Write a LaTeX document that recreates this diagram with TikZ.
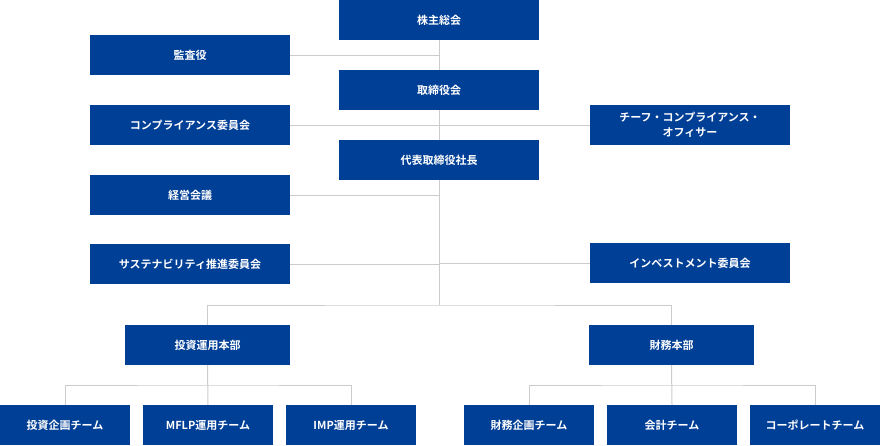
\documentclass[tikz,border=0pt]{standalone}
\usepackage{fontspec}
\usepackage{xcolor}
\usepackage{tikz}
\usetikzlibrary{positioning,calc}
\newfontfamily\jpfont[BoldFont={Noto Sans CJK JP Bold}]{Noto Sans CJK JP}
\definecolor{orgblue}{HTML}{003F96}
\definecolor{linegray}{HTML}{CCCCCC}
\tikzset{
  orgbox/.style={fill=orgblue,text=white,minimum height=40pt,inner sep=0pt,
    font=\jpfont\bfseries\fontsize{11pt}{15pt}\selectfont,align=center},
  widebox/.style={orgbox,minimum width=200pt},
  headbox/.style={orgbox,minimum width=165pt},
  teambox/.style={orgbox,minimum width=130pt},
  link/.style={linegray,line width=1pt}
}

\begin{document}
\begin{tikzpicture}[x=1pt,y=-1pt]
  \useasboundingbox (0,0) rectangle (880,445);
  % top chain
  \node[widebox] (soukai) at (439,20) {株主総会};
  \node[widebox] (torishimariyakukai) at (439,90) {取締役会};
  \node[widebox] (shacho) at (439,160) {代表取締役社長};
  % side bodies
  \node[widebox] (kansayaku) at (190,55) {監査役};
  \node[widebox] (compliance) at (190,125) {コンプライアンス委員会};
  \node[widebox] (cco) at (690,125) {チーフ・コンプライアンス・\\オフィサー};
  \node[widebox] (keiei) at (190,195) {経営会議};
  \node[widebox] (sustain) at (190,264) {サステナビリティ推進委員会};
  \node[widebox] (invest) at (690,263) {インベストメント委員会};
  % divisions
  \node[headbox] (toushi) at (207.5,345) {投資運用本部};
  \node[headbox] (zaimu) at (671.5,345) {財務本部};
  % teams
  \node[teambox] (tkikaku) at (65,425) {投資企画チーム};
  \node[teambox] (mflp) at (208,425) {MFLP運用チーム};
  \node[teambox] (imp) at (351,425) {IMP運用チーム};
  \node[teambox] (zkikaku) at (529,425) {財務企画チーム};
  \node[teambox] (kaikei) at (672,425) {会計チーム};
  \node[teambox] (corporate) at (815,425) {コーポレートチーム};
  \coordinate (split) at (440,305);

  % connectors
  \draw[link] (soukai.south) -- (torishimariyakukai.north);
  \draw[link] (torishimariyakukai.south) -- (shacho.north);
  \draw[link] (shacho.south) -- (shacho.south |- split);
  \draw[link] (kansayaku.east) -- (kansayaku.east -| soukai.south);
  \draw[link] (compliance.east) -- (cco.west);
  \draw[link] (keiei.east) -- (keiei.east -| shacho.south);
  \draw[link] (sustain.east) -- (sustain.east -| shacho.south);
  \draw[link] (invest.west) -- (invest.west -| shacho.south);
  \draw[link] (toushi.north) |- (split) -| (zaimu.north);
  \draw[link] (toushi.south) -- (mflp.north);
  \draw[link] (tkikaku.north) |- ($(toushi.south)!.5!(mflp.north)$) -| (imp.north);
  \draw[link] (zaimu.south) -- (kaikei.north);
  \draw[link] (zkikaku.north) |- ($(zaimu.south)!.5!(kaikei.north)$) -| (corporate.north);
\end{tikzpicture}
\end{document}
